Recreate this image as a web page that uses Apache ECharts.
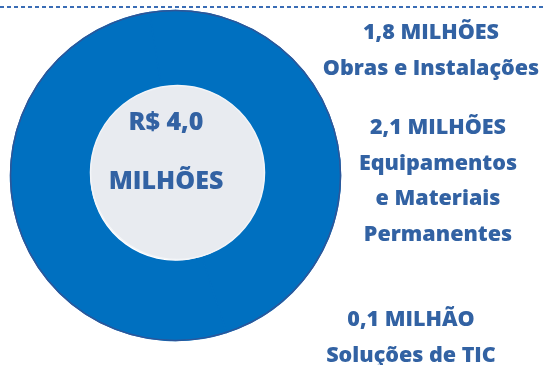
<!DOCTYPE html>
<html>
<head>
<meta charset="utf-8">
<script src="https://cdn.jsdelivr.net/npm/echarts@6/dist/echarts.min.js"></script>
<style>
  html, body { margin: 0; padding: 0; background: #ffffff; }
  #chart { width: 543px; height: 365px; }
</style>
</head>
<body>
<div id="chart"></div>
<script>
// Investment breakdown (R$ millions)
const categories = ['Obras e Instalações', 'Equipamentos\ne Materiais\nPermanentes', 'Soluções de TIC'];
const values = [1.8, 2.1, 0.1];
const total = 4.0;

const fmt = v => v.toFixed(1).replace('.', ',');
const unit = v => (v < 1 ? 'MILHÃO' : 'MILHÕES');

const BLUE = '#0070C0';
const TEXT = '#3262A3';
const FONT = '"Open Sans", Lato, sans-serif';

const chart = echarts.init(document.getElementById('chart'));

// Label anchor points for each category block (x = centre, y = first line)
const labelPos = [[431, 33], [438, 128], [411, 320]];
const LINE = 35.5;

const labelGraphics = categories.map((name, i) => {
  const lines = [fmt(values[i]) + ' ' + unit(values[i])].concat(name.split('\n'));
  return {
    type: 'text',
    x: labelPos[i][0],
    y: labelPos[i][1] + (lines.length - 1) * LINE / 2,
    style: {
      text: lines.join('\n'),
      fill: TEXT,
      font: '800 21.5px ' + FONT,
      lineHeight: LINE,
      align: 'center',
      verticalAlign: 'middle'
    }
  };
});

chart.setOption({
  animation: false,
  graphic: [
    {
      type: 'line',
      shape: { x1: 0, y1: 7, x2: 543, y2: 7 },
      style: { stroke: '#3A6DB5', lineWidth: 2, lineDash: [4, 3] }
    },
    {
      type: 'circle',
      shape: { cx: 175.5, cy: 175.5, r: 165 },
      style: { fill: 'none', stroke: '#2F5597', lineWidth: 1.5 },
      z: 10
    },
    {
      type: 'text',
      x: 166,
      y: 123,
      style: {
        text: 'R$ ' + fmt(total),
        fill: TEXT,
        font: '800 25px ' + FONT,
        align: 'center',
        verticalAlign: 'middle'
      },
      z: 20
    },
    {
      type: 'text',
      x: 166,
      y: 182,
      style: {
        text: unit(total),
        fill: TEXT,
        font: '800 25px ' + FONT,
        align: 'center',
        verticalAlign: 'middle'
      },
      z: 20
    }
  ].concat(labelGraphics),
  series: [
    {
      type: 'pie',
      center: [175.5, 175.5],
      radius: [86, 165],
      startAngle: 90,
      silent: true,
      label: { show: false },
      labelLine: { show: false },
      itemStyle: { color: BLUE, borderColor: BLUE, borderWidth: 1.5 },
      data: categories.map((name, i) => ({ name: name, value: values[i] }))
    },
    {
      type: 'pie',
      center: [177.5, 172.5],
      radius: [0, 87],
      silent: true,
      label: { show: false },
      labelLine: { show: false },
      itemStyle: { color: '#E8EBF0', borderColor: '#F3F5F8', borderWidth: 1.5 },
      data: [{ name: 'Total', value: total }]
    }
  ]
});
</script>
</body>
</html>
